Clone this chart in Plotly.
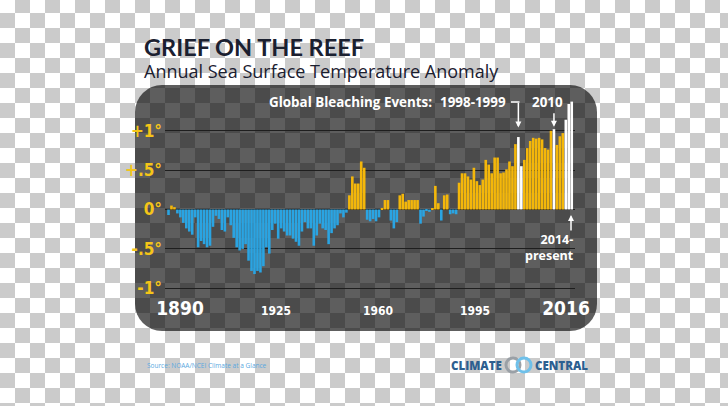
import base64
import plotly.graph_objects as go

# ---------------- data ----------------
years = list(range(1880, 2017))
anomaly = [
    -0.07, 0.05, 0.03, -0.05, -0.10, -0.17, -0.24, -0.28, -0.32, -0.10,
    -0.48, -0.40, -0.44, -0.48, -0.46, -0.22, -0.08, -0.12, -0.26, -0.28,
    -0.10, -0.20, -0.36, -0.48, -0.52, -0.50, -0.44, -0.65, -0.78, -0.82,
    -0.78, -0.80, -0.72, -0.48, -0.56, -0.26, -0.18, -0.37, -0.24, -0.28,
    -0.33, -0.33, -0.37, -0.41, -0.46, -0.28, -0.16, -0.24, -0.24, -0.46,
    -0.33, -0.18, -0.24, -0.26, -0.44, -0.30, -0.24, -0.20, -0.05, -0.10,
    -0.04, 0.18, 0.42, 0.33, 0.33, 0.61, 0.53, -0.13, -0.15, -0.12,
    -0.15, -0.10, 0.02, 0.12, 0.12, -0.14, -0.24, -0.16, 0.18, 0.20,
    0.10, 0.12, 0.12, 0.12, 0.12, -0.18, -0.09, -0.01, -0.03, 0.01,
    0.30, 0.08, -0.14, 0.18, 0.19, -0.06, -0.05, -0.06, 0.34, 0.46,
    0.46, 0.42, 0.38, 0.53, 0.36, 0.31, 0.38, 0.63, 0.57, 0.46,
    0.66, 0.66, 0.46, 0.47, 0.51, 0.61, 0.55, 0.83, 0.92, 0.55,
    0.63, 0.78, 0.87, 0.91, 0.90, 0.91, 0.89, 0.78, 0.76, 1.00,
    1.02, 0.82, 0.93, 0.97, 1.14, 1.34, 1.37,
]
bleaching_years = [1998, 1999, 2010, 2014, 2015, 2016]
y_tick_vals = [1, 0.5, 0, -0.5, -1]
y_tick_text = ["+1°", "+.5°", "0°", "-.5°", "-1°"]
x_tick_text = ["1890", "1925", "1960", "1995", "2016"]

# ---------------- styling ----------------
W, H = 728, 406
YELLOW = "#f4b70a"
BLUE = "#2aa4e2"
WHITE = "#ffffff"
COND = "Liberation Sans Narrow, DejaVu Sans Condensed, Roboto Condensed, Arial Narrow, sans-serif"


def fx(px):
    return px / W


def fy(py):
    return 1 - py / H


PX_PER_YEAR = 2.965
X_LEFT, X_RIGHT = 165, 575
x0_year = 1880 - (168.5 - X_LEFT) / PX_PER_YEAR
x1_year = x0_year + (X_RIGHT - X_LEFT) / PX_PER_YEAR


def year_at(px):
    return x0_year + (px - X_LEFT) / PX_PER_YEAR


Y_TOP, Y_BOT = 95, 300
PX_PER_DEG = 78.75
ZERO_PX = 209.5
y_hi = (ZERO_PX - Y_TOP) / PX_PER_DEG
y_lo = -(Y_BOT - ZERO_PX) / PX_PER_DEG

colors = []
for yr, v in zip(years, anomaly):
    if yr in bleaching_years:
        colors.append(WHITE)
    elif v >= 0:
        colors.append(YELLOW)
    else:
        colors.append(BLUE)

fig = go.Figure()
fig.add_trace(go.Bar(
    x=years, y=anomaly,
    marker=dict(color=colors, line=dict(width=0)),
    hoverinfo="x+y",
))

# background: checkerboard + dark rounded panel
svg = f"""<svg xmlns='http://www.w3.org/2000/svg' width='{W}' height='{H}' viewBox='0 0 {W} {H}' preserveAspectRatio='none'>
<defs><pattern id='c' x='0' y='-2' width='30' height='30' patternUnits='userSpaceOnUse'>
<rect width='30' height='30' fill='#ffffff'/>
<rect x='15' y='0' width='15' height='15' fill='#cbcbcb'/>
<rect x='0' y='15' width='15' height='15' fill='#cbcbcb'/>
</pattern></defs>
<rect width='{W}' height='{H}' fill='url(#c)'/>
<rect x='135' y='85' width='462' height='246' rx='27' ry='27' fill='#000000' fill-opacity='0.63'/>
</svg>"""
src = "data:image/svg+xml;base64," + base64.b64encode(svg.encode()).decode()
fig.add_layout_image(source=src, xref="paper", yref="paper", x=0, y=1,
                     sizex=1, sizey=1, xanchor="left", yanchor="top",
                     sizing="stretch", layer="below")

ann = []
# title + subtitle
ann.append(dict(text="<b>GRIEF ON THE REEF</b>", x=fx(143), y=fy(46.5), xref="paper", yref="paper",
                xanchor="left", yanchor="middle", showarrow=False, borderpad=0,
                font=dict(family="Lato, Open Sans, sans-serif", size=23.5, color="#1b2030", weight=900)))
ann.append(dict(text="Annual Sea Surface Temperature Anomaly", x=fx(143), y=fy(70.5), xref="paper", yref="paper",
                xanchor="left", yanchor="middle", showarrow=False, borderpad=0,
                font=dict(family="Open Sans, sans-serif", size=18, color="#1b2030")))
# bleaching labels
lab_font = dict(family="Open Sans, sans-serif", size=13.4, color="white", weight=700)
ann.append(dict(text="Global Bleaching Events:", x=fx(434), y=fy(102), xref="paper", yref="paper",
                xanchor="right", yanchor="middle", showarrow=False, font=lab_font))
ann.append(dict(text="1998-1999", x=fx(508), y=fy(102), xref="paper", yref="paper",
                xanchor="right", yanchor="middle", showarrow=False, font=lab_font))
ann.append(dict(text="2010", x=fx(547), y=fy(102), xref="paper", yref="paper",
                xanchor="center", yanchor="middle", showarrow=False, font=lab_font))
ann.append(dict(text="2014-<br>present", x=fx(576), y=fy(247), xref="paper", yref="paper",
                xanchor="right", yanchor="middle", align="right", showarrow=False,
                font=dict(family="Open Sans, sans-serif", size=12.5, color="white", weight=700)))
# arrows
ann.append(dict(x=1998, y=1.04, xref="x", yref="y", ax=0, ay=-26, axref="pixel", ayref="pixel",
                text="", showarrow=True, arrowhead=2, arrowsize=0.8, arrowwidth=1.5, arrowcolor="white"))
ann.append(dict(x=2010, y=1.05, xref="x", yref="y", ax=0, ay=-15, text="", showarrow=True,
                arrowhead=2, arrowsize=0.8, arrowwidth=1.5, arrowcolor="white"))
ann.append(dict(x=year_at(571), y=-0.07, xref="x", yref="y", ax=0, ay=17, text="", showarrow=True,
                arrowhead=2, arrowsize=0.8, arrowwidth=1.5, arrowcolor="white"))
# source + logo
ann.append(dict(text="Source: NOAA/NCEI Climate at a Glance", x=fx(145), y=fy(365), xref="paper", yref="paper",
                xanchor="left", yanchor="middle", showarrow=False,
                font=dict(family="Open Sans, sans-serif", size=6.5, color="#5aa8e0")))
logo_font = dict(family="Open Sans, sans-serif", size=11.5, color="#2d5f90", weight=800)
ann.append(dict(text="CLIMATE", x=fx(504), y=fy(365), xref="paper", yref="paper",
                xanchor="right", yanchor="middle", showarrow=False, font=logo_font))
ann.append(dict(text="CENTRAL", x=fx(533), y=fy(365), xref="paper", yref="paper",
                xanchor="left", yanchor="middle", showarrow=False, font=logo_font))

shapes = [
    # horizontal bit of 1998-1999 leader
    dict(type="line", xref="paper", yref="paper", x0=fx(511), x1=fx(519.5), y0=fy(102), y1=fy(102),
         line=dict(color="white", width=1.5)),
    # logo rings
    dict(type="circle", xref="paper", yref="paper", x0=fx(506), x1=fx(520), y0=fy(372), y1=fy(358),
         line=dict(color="#9aa0a6", width=3)),
    dict(type="circle", xref="paper", yref="paper", x0=fx(517), x1=fx(531), y0=fy(372), y1=fy(358),
         line=dict(color="#6ec0ea", width=3)),
]

fig.update_layout(
    width=W, height=H,
    margin=dict(l=0, r=0, t=0, b=0, pad=0, autoexpand=False),
    paper_bgcolor="white",
    plot_bgcolor="rgba(0,0,0,0)",
    showlegend=False,
    bargap=0.12,
    annotations=ann,
    shapes=shapes,
    xaxis=dict(domain=[fx(X_LEFT), fx(X_RIGHT)], range=[x0_year, x1_year], automargin=False,
               showgrid=False, zeroline=False, showline=False, ticks="",
               tickvals=[year_at(180), year_at(276), year_at(378), year_at(475), year_at(566)],
               ticktext=[
                   f"<b><span style='font-size:19px'>{x_tick_text[0]}</span></b>",
                   f"<b>{x_tick_text[1]}</b>", f"<b>{x_tick_text[2]}</b>", f"<b>{x_tick_text[3]}</b>",
                   f"<b><span style='font-size:19px'>{x_tick_text[4]}</span></b>",
               ],
               tickfont=dict(family=COND, size=12, color="white"),
               ticklabelstandoff=2),
    yaxis=dict(domain=[fy(Y_BOT), fy(Y_TOP)], range=[y_lo, y_hi], automargin=False,
               tickvals=y_tick_vals, ticktext=[f"<b>{t}</b>" for t in y_tick_text],
               tickfont=dict(family=COND, size=17, color="#f5c518"),
               showgrid=True, gridcolor="#1e1e1e", gridwidth=1,
               zeroline=False, showline=False, ticks="", ticklabelstandoff=2),
)

fig.write_html("out.html", config={"displayModeBar": False},
               post_script="document.body.style.margin='0';document.body.style.overflow='hidden';")
